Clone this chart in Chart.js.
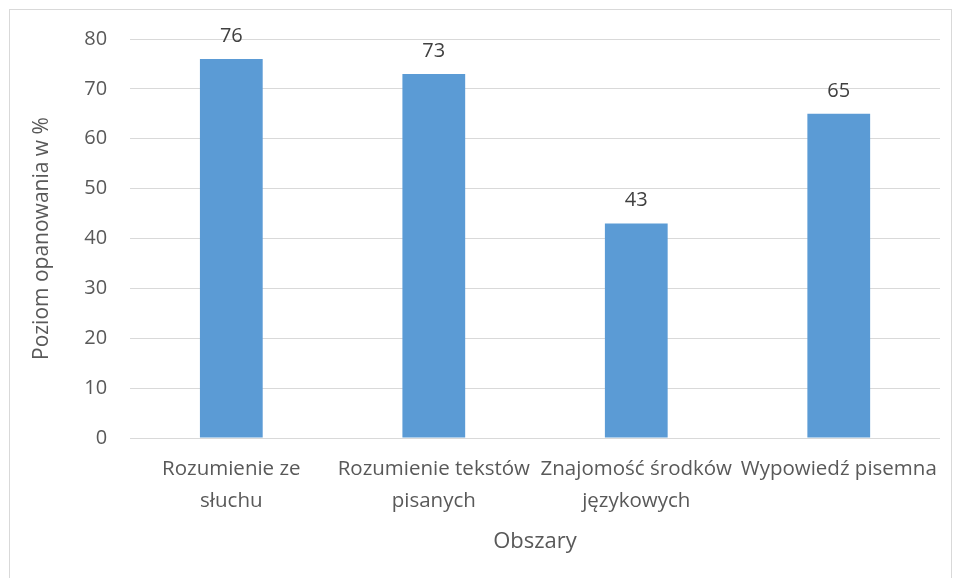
<!DOCTYPE html>
<html>
<head>
<meta charset="utf-8">
<script src="https://cdn.jsdelivr.net/npm/chart.js@4/dist/chart.umd.min.js"></script>
<style>
  body { margin: 0; background: #fff; }
  canvas { display: block; }
</style>
</head>
<body>
<canvas id="chart" width="959" height="578"></canvas>
<script>
// dane z wykresu
var categories = [
    ['Rozumienie ze', 'słuchu'],
    ['Rozumienie tekstów', 'pisanych'],
    ['Znajomość środków', 'językowych'],
    ['Wypowiedź pisemna']
];
var values = [76, 73, 43, 65];
var yTicks = [0, 10, 20, 30, 40, 50, 60, 70, 80];

var textColor = '#595959';
var fontFamily = '"Open Sans", "Liberation Sans", sans-serif';

// ramka wokół wykresu
var framePlugin = {
    id: 'frame',
    beforeDraw: function (chart) {
        var ctx = chart.ctx;
        ctx.save();
        ctx.fillStyle = '#fff';
        ctx.fillRect(0, 0, chart.width, chart.height);
        ctx.strokeStyle = '#d9d9d9';
        ctx.lineWidth = 1;
        ctx.strokeRect(9.5, 9.5, 942, 620);
        ctx.restore();
    }
};

// etykiety wartości nad słupkami
var valueLabels = {
    id: 'valueLabels',
    afterDatasetsDraw: function (chart) {
        var ctx = chart.ctx;
        var meta = chart.getDatasetMeta(0);
        ctx.save();
        ctx.fillStyle = '#404040';
        ctx.font = '20px ' + fontFamily;
        ctx.textAlign = 'center';
        ctx.textBaseline = 'middle';
        meta.data.forEach(function (bar, i) {
            ctx.fillText(chart.data.datasets[0].data[i], bar.x, bar.y - 23);
        });
        ctx.restore();
    }
};

new Chart(document.getElementById('chart'), {
    type: 'bar',
    data: {
        labels: categories,
        datasets: [{
            data: values,
            backgroundColor: '#5b9bd5',
            categoryPercentage: 1,
            barPercentage: 0.31
        }]
    },
    options: {
        responsive: false,
        animation: false,
        layout: { padding: { left: 25, right: 19, top: 39, bottom: 21 } },
        plugins: {
            legend: { display: false },
            tooltip: { enabled: false }
        },
        scales: {
            x: {
                grid: { display: false },
                border: { display: false },
                ticks: {
                    color: textColor,
                    font: { family: fontFamily, size: 20.5, lineHeight: 1.56 },
                    padding: 7,
                    maxRotation: 0,
                    autoSkip: false
                },
                title: {
                    display: true,
                    text: 'Obszary',
                    color: textColor,
                    font: { family: fontFamily, size: 22, lineHeight: 1.0 },
                    padding: { top: 7 }
                }
            },
            y: {
                min: 0,
                max: 80,
                afterBuildTicks: function (axis) {
                    axis.ticks = yTicks.map(function (v) { return { value: v }; });
                },
                grid: { color: '#d9d9d9', drawTicks: false },
                border: { display: false },
                ticks: {
                    color: textColor,
                    font: { family: fontFamily, size: 20 },
                    padding: 23
                },
                title: {
                    display: true,
                    text: 'Poziom opanowania w %',
                    color: textColor,
                    font: { family: fontFamily, size: 21 },
                    padding: { bottom: 7 }
                }
            }
        }
    },
    plugins: [framePlugin, valueLabels]
});
</script>
</body>
</html>
